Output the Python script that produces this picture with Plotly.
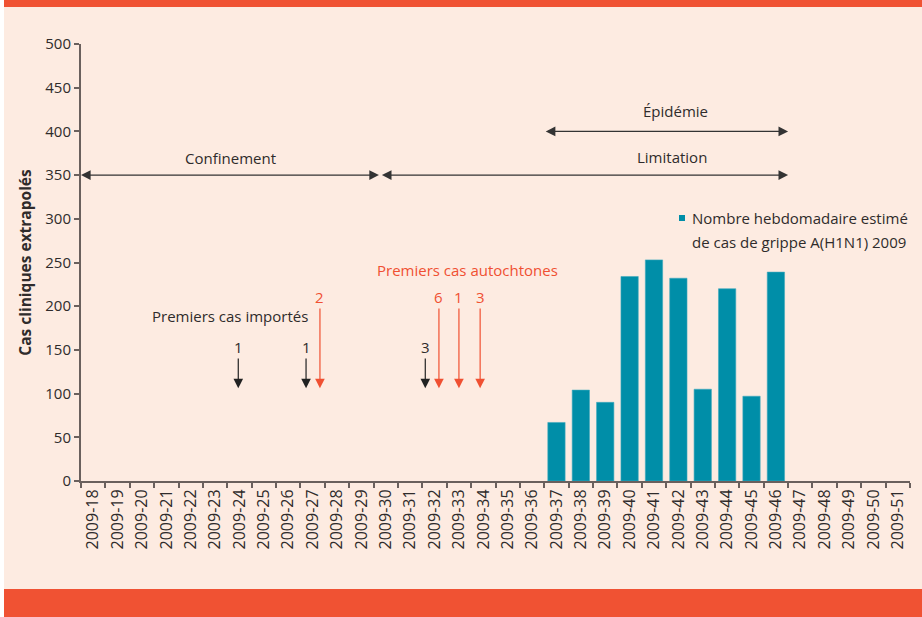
import plotly.graph_objects as go

# ---------------- data ----------------
weeks = ["2009-18", "2009-19", "2009-20", "2009-21", "2009-22", "2009-23", "2009-24",
         "2009-25", "2009-26", "2009-27", "2009-28", "2009-29", "2009-30", "2009-31",
         "2009-32", "2009-33", "2009-34", "2009-35", "2009-36", "2009-37", "2009-38",
         "2009-39", "2009-40", "2009-41", "2009-42", "2009-43", "2009-44", "2009-45",
         "2009-46", "2009-47", "2009-48", "2009-49", "2009-50", "2009-51"]
cases = [None] * 19 + [67, 104, 90, 234, 253, 232, 105, 220, 97, 239] + [None] * 5
series_name = ["Nombre hebdomadaire estimé", "de cas de grippe A(H1N1) 2009"]

y_ticks = [0, 50, 100, 150, 200, 250, 300, 350, 400, 450, 500]

# imported / autochthonous first cases: (x position in week index, count)
imported_x = [5.95, 8.73, 13.62]
imported_n = ["1", "1", "3"]
autochthonous_x = [9.3, 14.18, 15.0, 15.87]
autochthonous_n = ["2", "6", "1", "3"]

# ---------------- styles ----------------
BG = "#FDEBE1"
ORANGE = "#F05233"
RED = "#F05032"
BAR = "#008EA8"
TXT = "#2F2B2B"
AXIS = "#6A605D"
FONT = "Open Sans"

fig = go.Figure()
fig.add_trace(go.Bar(x=weeks, y=cases, marker=dict(color=BAR, line=dict(width=0.6, color="#3FA9BD")),
                     width=0.71, showlegend=False, hoverinfo="x+y"))

W, H = 922, 617
L, R, T, B = 81, 12, 44, 136
pw, ph = W - L - R, H - T - B


def px(xp):
    return (xp - L) / pw


def py(yp):
    return (H - B - yp) / ph


shapes = [
    dict(type="rect", xref="paper", yref="paper", x0=px(4), x1=px(925), y0=py(590), y1=py(6),
         fillcolor=BG, line=dict(width=0), layer="below"),
    dict(type="rect", xref="paper", yref="paper", x0=px(4), x1=px(925), y0=py(7), y1=py(-3),
         fillcolor=ORANGE, line=dict(width=0), layer="below"),
    dict(type="rect", xref="paper", yref="paper", x0=px(4), x1=px(925), y0=py(620), y1=py(589),
         fillcolor=ORANGE, line=dict(width=0), layer="below"),
    # legend key
    dict(type="rect", xref="paper", yref="paper", x0=px(679), x1=px(685), y0=py(221), y1=py(215),
         fillcolor=BAR, line=dict(width=0)),
]

ann = []


def arrow(x_head, y_head, x_tail, y_tail, color, both=False):
    ann.append(dict(x=x_head, y=y_head, ax=x_tail, ay=y_tail, xref="x", yref="y", axref="x", ayref="y",
                    text="", showarrow=True, arrowhead=2, startarrowhead=2, arrowsize=1.6,
                    startarrowsize=1.6, arrowwidth=1.2, arrowcolor=color,
                    arrowside="end+start" if both else "end", standoff=0, startstandoff=0))


def label(x, y, text, color=TXT, size=15):
    ann.append(dict(x=x, y=y, xref="x", yref="y", text=text, showarrow=False,
                    font=dict(family=FONT, size=size, color=color), xanchor="center", yanchor="middle"))


# periods
arrow(-0.5, 350, 11.78, 350, "#333", both=True)
arrow(28.5, 350, 11.78, 350, "#333", both=True)
arrow(28.5, 400, 18.5, 400, "#333", both=True)
label(5.65, 370, "Confinement")
label(23.75, 371, "Limitation")
label(23.87, 423, "Épidémie")

# first cases
label(5.62, 189, "Premiers cas importés")
label(15.37, 241, "Premiers cas autochtones", color=RED)
for xv, n in zip(imported_x, imported_n):
    arrow(xv, 106, xv, 142, "#222")
    label(xv, 153, n)
for xv, n in zip(autochthonous_x, autochthonous_n):
    arrow(xv, 106, xv, 199, RED)
    label(xv, 210, n, color=RED)

# legend text
ann.append(dict(x=px(690), y=py(218), xref="paper", yref="paper", text=series_name[0], showarrow=False,
                xanchor="left", yanchor="middle", font=dict(family=FONT, size=15, color=TXT)))
ann.append(dict(x=px(690), y=py(242), xref="paper", yref="paper", text=series_name[1], showarrow=False,
                xanchor="left", yanchor="middle", font=dict(family=FONT, size=15, color=TXT)))

fig.update_layout(
    width=W, height=H, margin=dict(l=L, r=R, t=T, b=B, pad=0),
    paper_bgcolor="white", plot_bgcolor=BG, showlegend=False,
    font=dict(family=FONT, size=15, color=TXT),
    shapes=shapes, annotations=ann, bargap=0.29,
    xaxis=dict(type="category", categoryorder="array", categoryarray=weeks, range=[-0.5, 33.5],
               tickson="boundaries", ticks="outside", ticklen=5, tickwidth=1.5, tickcolor=AXIS,
               showline=True, linecolor=AXIS, linewidth=2, showgrid=False, zeroline=False,
               tickangle=-90, tickfont=dict(family=FONT, size=16, color=TXT)),
    yaxis=dict(range=[0, 500], tickvals=y_ticks, ticks="outside", ticklen=5, tickwidth=1.5,
               tickcolor=AXIS, showline=True, linecolor=AXIS, linewidth=2, showgrid=False,
               zeroline=False, tickfont=dict(family=FONT, size=15, color=TXT),
               title=dict(text="<b>Cas cliniques extrapolés</b>", standoff=10,
                          font=dict(family=FONT, size=15.5, color=TXT))),
)

fig.write_html("out.html", config={"displayModeBar": False},
               post_script="document.body.style.margin='0';document.body.style.overflow='hidden';")
